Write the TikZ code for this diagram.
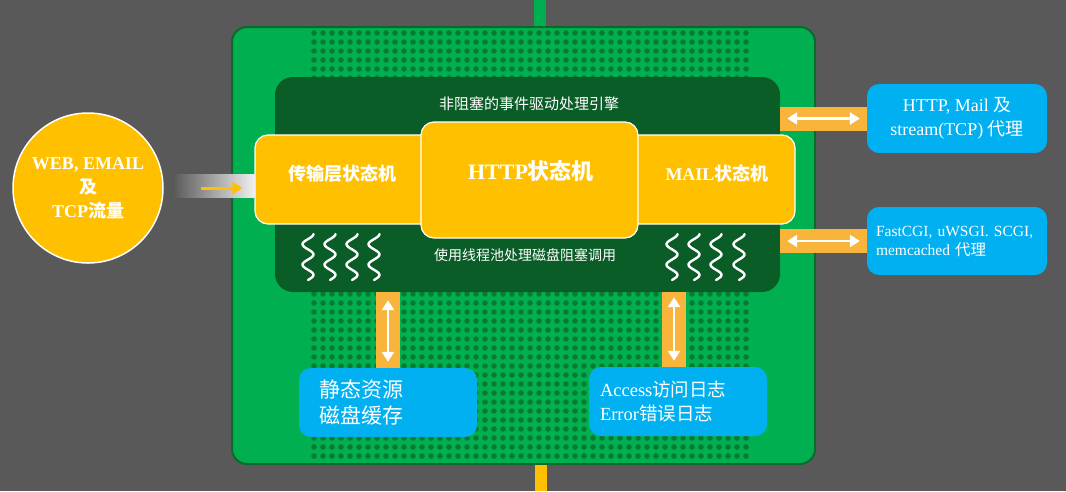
\documentclass[tikz,border=0pt]{standalone}
\usepackage{fontspec}
\setmainfont{Liberation Serif}
\newfontfamily\zh{Noto Sans CJK SC}
\usetikzlibrary{positioning,arrows.meta}
\definecolor{bg}{HTML}{595959}
\definecolor{grn}{HTML}{00B050}
\definecolor{dgrn}{HTML}{0B5D28}
\definecolor{dots}{HTML}{0A7A33}
\definecolor{edge}{HTML}{0A6A2C}
\definecolor{ylw}{HTML}{FFC000}
\definecolor{org}{HTML}{F9B53B}
\definecolor{blu}{HTML}{00B0F0}
\newcommand{\fz}[2]{\fontsize{#1}{#2}\selectfont}

\begin{document}
\begin{tikzpicture}[x=1pt, y=-1pt, >={Triangle[length=10pt, width=12pt]},
  board/.style={draw=edge, line width=2, fill=grn, rounded corners=15, inner sep=0},
  engine/.style={fill=dgrn, rounded corners=18, inner sep=0},
  ybox/.style={draw=white, line width=1.2, fill=ylw, rounded corners=13, inner sep=0},
  bbox/.style={fill=blu, rounded corners=12, inner sep=0, text=white},
  txt/.style={text=white, inner sep=0},
  pipe/.style={org, line width=24},
  dbl/.style={white, line width=2.8, <->},
  wave/.style={white, line width=2.4, line cap=round}]

  \fill[bg] (0,0) rectangle (1066,491);
  \useasboundingbox (0,0) rectangle (1066,491);

  \coordinate (tp) at (540,0);
  \coordinate (bt) at (541,491);
  \node[board, minimum width=583, minimum height=437] (brd) at (523.5,245.5) {};
  \draw[grn, line width=12] (tp) -- (tp |- brd.north); %% top wire
  \draw[ylw, line width=12] (bt) -- (bt |- brd.south); %% bottom wire

  % dot grid
  \foreach \i in {0,...,48}
    \foreach \j in {0,...,47}
      \fill[dots] (314+9*\i, 33+9*\j) circle (2.8pt);

  \node[engine, minimum width=505, minimum height=215] (eng) at (527.5,184.5) {};
  \node[txt] (etop) at (529,104) {\zh\fz{15}{18}非阻塞的事件驱动处理引擎};
  \node[txt] (ebot) at (525,255) {\zh\fz{14}{17}使用线程池处理磁盘阻塞调用};

  \foreach \cx in {308,330,352,374,672,694,716,739}
    \draw[wave] plot[domain=0:1, samples=50, smooth] ({\cx+5.5*cos(810*\x)}, {234+46*\x});

  \node[ybox, minimum width=205, minimum height=89] (tbox) at (357.5,179.5) {};
  \node[ybox, minimum width=195, minimum height=89] (mbox) at (697.5,179.5) {};
  \node[ybox, minimum width=217, minimum height=116] (hbox) at (529.5,180) {};
  \node[txt] (tlbl) at (342,174) {\zh\bfseries\fz{18}{20}传输层状态机};
  \node[txt] (hlbl) at (531,171) {\fz{22}{24}\bfseries HTTP{\zh 状态机}};
  \node[txt] (mlbl) at (717,174) {\fz{18}{20}\bfseries MAIL{\zh 状态机}};

  \node[circle, draw=white, line width=1.5, fill=ylw, minimum size=150, inner sep=0,
        text=white, align=center, font=\fz{18}{24}\bfseries] (web) at (88,188)
        {WEB, EMAIL\\{\zh 及}\\TCP{\zh 流量}};

  \shade[left color=bg, middle color=white!94!black, right color=white!94!black]
    ([xshift=9pt, yshift=14pt]web.east) rectangle ([yshift=-9pt]web.east -| tbox.west);
  \draw[ylw, line width=3, ->, shorten <=37pt, shorten >=12pt]
    (web.east) -- (web.east -| tbox.west); %% web -> tbox

  \node[bbox, minimum width=180, minimum height=69, align=center, font=\fz{18}{24}] (pbox)
    at (957,118.5) {HTTP, Mail {\zh 及}\\stream(TCP) {\zh 代理}};
  \node[bbox, minimum width=180, minimum height=68, text width=162, align=left, font=\fz{15.5}{19}] (cbox)
    at (957,241) {FastCGI, uWSGI. SCGI,\\memcached {\zh 代理}};
  \node[bbox, minimum width=178, minimum height=69, text width=138, align=left, font=\zh\fz{21}{26}] (sbox)
    at (388,402.5) {静态资源\\磁盘缓存};
  \node[bbox, minimum width=178, minimum height=69, text width=156, align=left, font=\fz{18.5}{24}] (lbox)
    at (678,401.5) {Access{\zh 访问日志}\\Error{\zh 错误日志}};

  \draw[pipe] (pbox.west -| eng.east) -- (pbox.west);
  \draw[dbl, shorten <=7pt, shorten >=7pt] (pbox.west -| eng.east) -- (pbox.west); %% eng <-> pbox
  \draw[pipe] (cbox.west -| eng.east) -- (cbox.west);
  \draw[dbl, shorten <=7pt, shorten >=7pt] (cbox.west -| eng.east) -- (cbox.west); %% eng <-> cbox

  \draw[pipe] (sbox.north |- eng.south) -- (sbox.north);
  \draw[dbl, shorten <=8pt, shorten >=6pt] (sbox.north |- eng.south) -- (sbox.north); %% eng <-> sbox
  \coordinate (lg) at ([xshift=-4pt]lbox.north);
  \draw[pipe] (lg |- eng.south) -- (lg);
  \draw[dbl, shorten <=5pt, shorten >=6pt] (lg |- eng.south) -- (lg); %% eng <-> lbox
\end{tikzpicture}
\end{document}
